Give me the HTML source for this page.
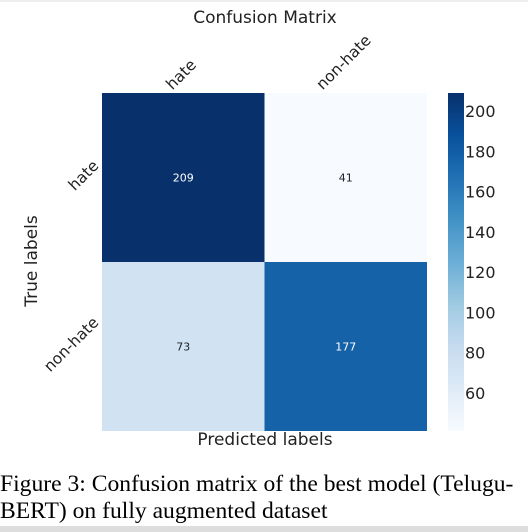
<!DOCTYPE html>
<html><head><meta charset="utf-8"><style>
body{margin:0;background:#fff;width:528px;height:532px;overflow:hidden;position:relative}
svg{position:absolute;left:0;top:0}
.cap{position:absolute;left:0;top:471px;font-family:"Liberation Serif",serif;font-size:23.6px;line-height:27px;color:#000;width:540px;white-space:nowrap}
</style></head><body>
<svg width="528" height="532" font-family="DejaVu Sans, Liberation Sans, sans-serif">
<rect x="0" y="0" width="528" height="2" fill="#eee"/>
<defs><linearGradient id="cb" x1="0" y1="1" x2="0" y2="0">
<stop offset="0" stop-color="#f7fbff"/><stop offset="0.125" stop-color="#deebf7"/><stop offset="0.25" stop-color="#c6dbef"/><stop offset="0.375" stop-color="#9ecae1"/><stop offset="0.5" stop-color="#6baed6"/><stop offset="0.625" stop-color="#4292c6"/><stop offset="0.75" stop-color="#2171b5"/><stop offset="0.875" stop-color="#08519c"/><stop offset="1" stop-color="#08306b"/></linearGradient></defs>
<g id="cells"></g>
<text x="265" y="23" font-size="17" text-anchor="middle" fill="#222">Confusion Matrix</text>
<text x="265" y="445" font-size="17" text-anchor="middle" fill="#222">Predicted labels</text>
<text transform="translate(37,261) rotate(-90)" font-size="17" text-anchor="middle" fill="#222">True labels</text>
<rect x="448" y="93" width="16" height="338" fill="url(#cb)"/>
<g id="cbticks"></g>
</svg>
<div class="cap">Figure 3: Confusion matrix of the best model (Telugu-<br>BERT) on fully augmented dataset</div>
<div style="position:absolute;left:0;top:526px;width:528px;height:6px;background:#ddd"></div>
<script>
const labels=["hate","non-hate"];
const values=[[209,41],[73,177]];
const cbTicks=[60,80,100,120,140,160,180,200];
const vmin=41,vmax=209;
const NS="http://www.w3.org/2000/svg";
const X0=102,Y0=93,W=325,H=338;
const stops=[[0,[247,251,255]],[.125,[222,235,247]],[.25,[198,219,239]],[.375,[158,202,225]],[.5,[107,174,214]],[.625,[66,146,198]],[.75,[33,113,181]],[.875,[8,81,156]],[1,[8,48,107]]];
function color(v){let t=(v-vmin)/(vmax-vmin);t=Math.max(0,Math.min(1,t));for(let i=1;i<stops.length;i++){if(t<=stops[i][0]){const a=stops[i-1],b=stops[i];const f=(t-a[0])/(b[0]-a[0]);return 'rgb('+a[1].map((c,k)=>Math.round(c+(b[1][k]-c)*f)).join(',')+')';}}return 'rgb(8,48,107)';}
function cbY(v){return 431-(v-vmin)/(vmax-vmin)*338;}
const g=document.getElementById('cells');
const n=labels.length,cw=W/n,ch=H/n;
for(let r=0;r<n;r++)for(let c=0;c<n;c++){
const v=values[r][c];
const rc=document.createElementNS(NS,'rect');
rc.setAttribute('x',X0+c*cw);rc.setAttribute('y',Y0+r*ch);rc.setAttribute('width',cw);rc.setAttribute('height',ch);rc.setAttribute('fill',color(v));


g.appendChild(rc);
const t=document.createElementNS(NS,'text');
t.setAttribute('x',X0+c*cw+cw/2);t.setAttribute('y',Y0+r*ch+ch/2+4);t.setAttribute('font-size','11');t.setAttribute('text-anchor','middle');
t.setAttribute('fill',(v-vmin)/(vmax-vmin)>0.5?'#fff':'#222');t.textContent=v;


g.appendChild(t);
}
for(let i=0;i<n;i++){
const cx=X0+i*cw+cw/2;
const t=document.createElementNS(NS,'text');
t.setAttribute('font-size','15.5');t.setAttribute('fill','#222');t.setAttribute('text-anchor','middle');t.textContent=labels[i];


g.appendChild(t);
let L=t.getComputedTextLength();
let px=cx-2,py=Y0-6-0.354*L;
t.setAttribute('x',px);t.setAttribute('y',py+5);
t.setAttribute('transform','rotate(-45 '+px+' '+py+')');
const cy=Y0+i*ch+ch/2;
const u=document.createElementNS(NS,'text');
u.setAttribute('font-size','15.5');u.setAttribute('text-anchor','middle');u.setAttribute('fill','#222');u.textContent=labels[i];


g.appendChild(u);
L=u.getComputedTextLength();
let qx=X0-6-0.354*L,qy=cy-2;
u.setAttribute('x',qx);u.setAttribute('y',qy+5);
u.setAttribute('transform','rotate(-45 '+qx+' '+qy+')');
}
const cb=document.getElementById('cbticks');
cbTicks.forEach(v=>{const t=document.createElementNS(NS,'text');
t.setAttribute('x',465);t.setAttribute('y',cbY(v)+6);t.setAttribute('font-size','16');t.setAttribute('fill','#222');t.textContent=v;


cb.appendChild(t);});
</script>
</body></html>
